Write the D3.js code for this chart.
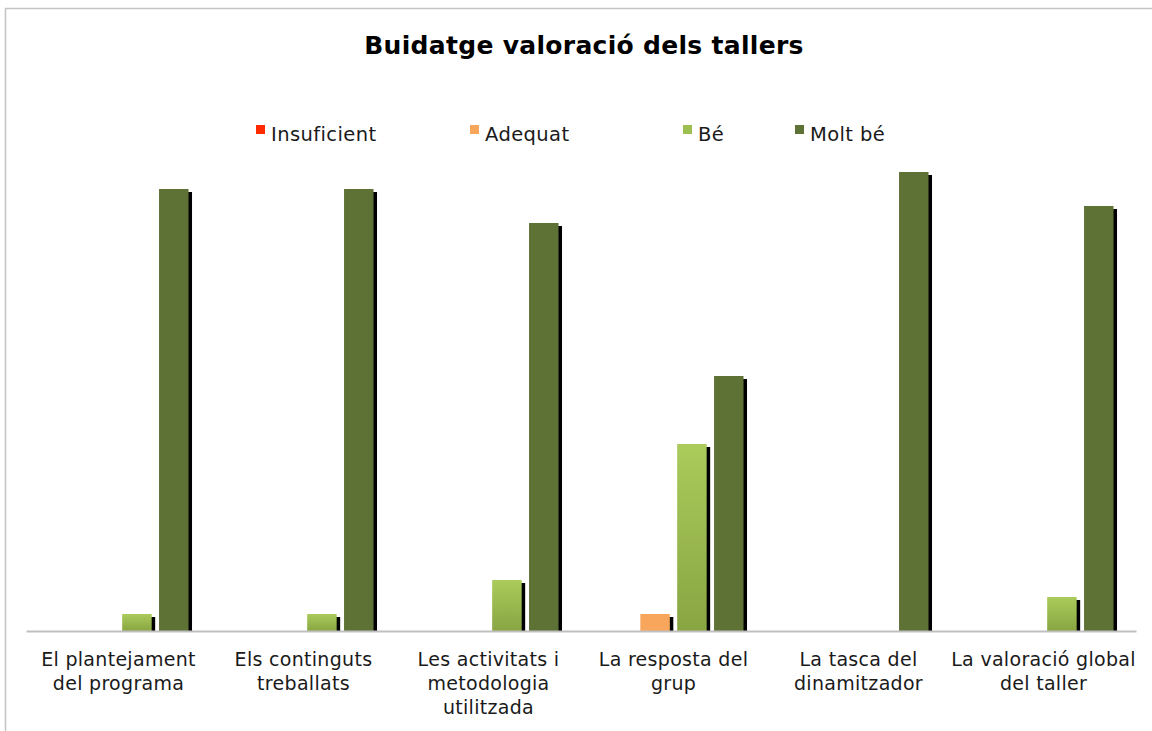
<!DOCTYPE html>
<html>
<head>
<meta charset="utf-8">
<script src="https://cdn.jsdelivr.net/npm/d3@7"></script>
<style>
  html, body { margin: 0; padding: 0; background: #fff; }
  svg { display: block; font-family: "DejaVu Sans", sans-serif; }
</style>
</head>
<body>
<svg id="chart"></svg>
<script>
const w = 1152;
const h = 731;

// data
const categories = [
    "El plantejament\ndel programa",
    "Els continguts\ntreballats",
    "Les activitats i\nmetodologia\nutilitzada",
    "La resposta del\ngrup",
    "La tasca del\ndinamitzador",
    "La valoració global\ndel taller"
];
const seriesNames = ["Insuficient", "Adequat", "Bé", "Molt bé"];
const insuficient = [0, 0, 0, 0, 0, 0];
const adequat = [0, 0, 0, 1, 0, 0];
const be = [1, 1, 3, 11, 0, 2];
const moltBe = [26, 26, 24, 15, 27, 25];
const yMax = 30;

const seriesValues = [insuficient, adequat, be, moltBe];
const colors = ["#ff2a00", "#f8a65c", "url(#gradBe)", "#5f7236"];
const legendColors = ["#ff2a00", "#f8a65c", "#9dbf4f", "#5f7236"];
const legendX = [256, 470, 683, 795];

const baseY = 631;

const svg = d3.select("#chart")
    .attr("width", w)
    .attr("height", h);

const defs = svg.append("defs");
const grad = defs.append("linearGradient")
    .attr("id", "gradBe")
    .attr("x1", 0).attr("y1", 0).attr("x2", 0).attr("y2", 1);
grad.append("stop").attr("offset", "0%").attr("stop-color", "#abcb5b");
grad.append("stop").attr("offset", "100%").attr("stop-color", "#88a542");

// frame
svg.append("path")
    .attr("d", `M5.5,${h} V8.5 H${w}`)
    .attr("fill", "none")
    .attr("stroke", "#c4c4c4")
    .attr("stroke-width", 1.5);

// title
svg.append("text")
    .attr("x", 584)
    .attr("y", 54)
    .attr("text-anchor", "middle")
    .style("font-size", "25px")
    .style("font-weight", "bold")
    .style("letter-spacing", "0.3px")
    .text("Buidatge valoració dels tallers");

const x0 = d3.scaleBand()
    .domain(d3.range(categories.length))
    .range([26, 1136])
    .paddingInner(0.243)
    .paddingOuter(0.1215);

const x1 = d3.scaleBand()
    .domain(d3.range(seriesNames.length))
    .range([0, x0.bandwidth()])
    .paddingInner(0.2);

const yScale = d3.scaleLinear()
    .domain([0, yMax])
    .range([baseY, baseY - 510]);

const chartData = [];
for (let s = 0; s < seriesValues.length; s++) {
    for (let c = 0; c < categories.length; c++) {
        chartData.push([c, s, seriesValues[s][c]]);
    }
}
const nonZero = chartData.filter(d => d[2] != 0);

// shadows
svg.append("g").selectAll("rect")
    .data(nonZero)
    .enter()
    .append("rect")
    .attr("x", d => x0(d[0]) + x1(d[1]) + 3.5)
    .attr("y", d => yScale(d[2]) + 3)
    .attr("width", x1.bandwidth())
    .attr("height", d => baseY - yScale(d[2]) - 3)
    .style("fill", "#000");

// bars
svg.append("g").selectAll("rect")
    .data(nonZero)
    .enter()
    .append("rect")
    .attr("x", d => x0(d[0]) + x1(d[1]))
    .attr("y", d => yScale(d[2]))
    .attr("width", x1.bandwidth())
    .attr("height", d => baseY - yScale(d[2]))
    .style("fill", d => colors[d[1]]);

// x axis
const xAxis = d3.axisBottom(x0).tickSize(0).tickFormat("");
const gx = svg.append("g")
    .attr("transform", `translate(0,${baseY})`)
    .call(xAxis);
gx.select(".domain")
    .attr("stroke", "#bfbfbf")
    .attr("stroke-width", 2);

// category labels
const labels = svg.append("g").selectAll("text")
    .data(categories)
    .enter()
    .append("text")
    .attr("text-anchor", "middle")
    .attr("x", (d, i) => x0(i) + x0.bandwidth() / 2)
    .attr("y", 666)
    .style("font-size", "19px")
    .style("letter-spacing", "0.3px")
    .style("fill", "#1a1a1a");
labels.selectAll("tspan")
    .data(d => d.split("\n"))
    .enter()
    .append("tspan")
    .attr("x", function () { return d3.select(this.parentNode).attr("x"); })
    .attr("dy", (d, i) => i === 0 ? 0 : 24)
    .text(d => d);

// legend
const legend = svg.append("g").selectAll("g")
    .data(seriesNames)
    .enter()
    .append("g")
    .attr("transform", (d, i) => `translate(${legendX[i]},0)`);
legend.append("rect")
    .attr("x", 0)
    .attr("y", 125)
    .attr("width", 9)
    .attr("height", 9)
    .style("fill", (d, i) => legendColors[i]);
legend.append("text")
    .attr("x", 15)
    .attr("y", 141)
    .style("font-size", "19.5px")
    .style("letter-spacing", "0.4px")
    .style("fill", "#1a1a1a")
    .text(d => d);
</script>
</body>
</html>
